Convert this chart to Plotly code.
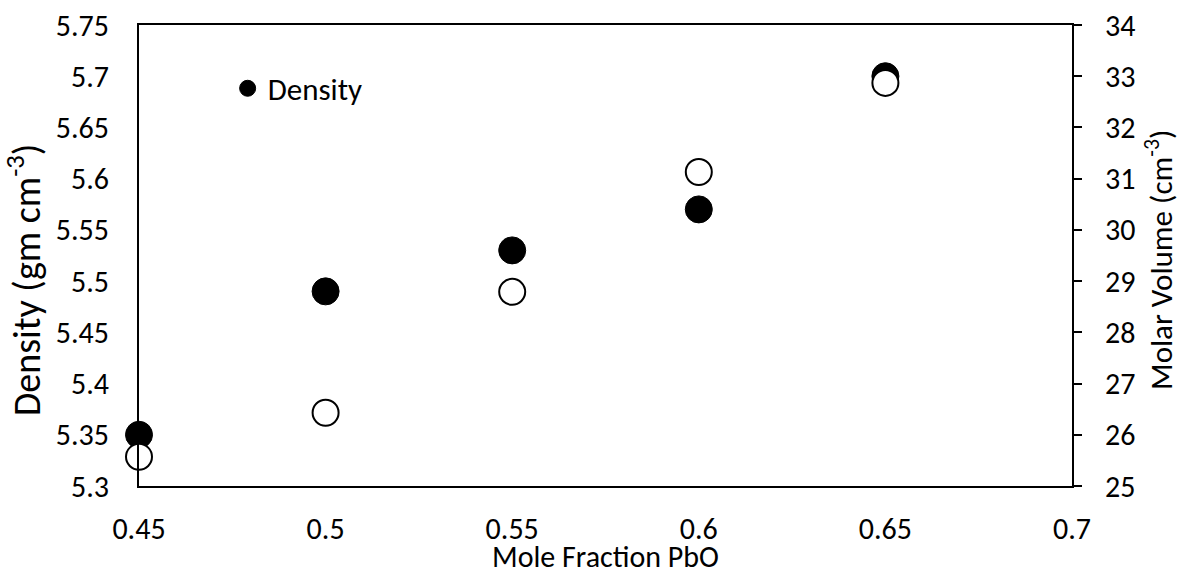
import plotly.graph_objects as go

mole_fraction = [0.45, 0.50, 0.55, 0.60, 0.65]
density = [5.35, 5.49, 5.53, 5.57, 5.70]
molar_volume = [25.57, 26.43, 28.79, 31.13, 32.87]

x_ticks = [0.45, 0.5, 0.55, 0.6, 0.65, 0.7]
x_labels = ["0.45", "0.5", "0.55", "0.6", "0.65", "0.7"]
y_ticks = [5.3, 5.35, 5.4, 5.45, 5.5, 5.55, 5.6, 5.65, 5.7, 5.75]
y_labels = ["5.3", "5.35", "5.4", "5.45", "5.5", "5.55", "5.6", "5.65", "5.7", "5.75"]
y2_ticks = list(range(25, 35))

FONT = "Carlito, Lato, sans-serif"
FS = 30

fig = go.Figure()
fig.add_trace(go.Scatter(
    x=mole_fraction, y=molar_volume, mode="markers", name="Molar Volume",
    yaxis="y2", showlegend=False, cliponaxis=False,
    marker=dict(size=26, color="white", line=dict(color="black", width=2)),
))
fig.add_trace(go.Scatter(
    x=mole_fraction, y=density, mode="markers", name="Density", cliponaxis=False,
    marker=dict(size=27, color="black", line=dict(color="black", width=1)),
))

fig.update_layout(
    width=1178, height=569,
    margin=dict(l=139, r=106, t=25, b=83, autoexpand=False),
    paper_bgcolor="white", plot_bgcolor="white",
    font=dict(family=FONT, size=FS, color="black"),
    showlegend=True,
    legend=dict(x=0.095, y=0.862, xanchor="left", yanchor="middle",
                bgcolor="rgba(0,0,0,0)", font=dict(size=31, family=FONT),
                itemwidth=30),
    xaxis=dict(range=[0.45, 0.7], tickvals=x_ticks, ticktext=x_labels,
               showgrid=False, zeroline=False, showline=True, linecolor="black",
               linewidth=2, mirror=True, ticks="", ticklabelstandoff=15,
               automargin=False,
               layer="above traces", tickfont=dict(size=FS, family=FONT)),
    yaxis=dict(range=[5.3, 5.75], tickvals=y_ticks, ticktext=y_labels,
               showgrid=False, zeroline=False, showline=True, linecolor="black",
               linewidth=2, ticks="", ticklabelstandoff=22, automargin=False,
               layer="above traces", tickfont=dict(size=FS, family=FONT)),
    yaxis2=dict(range=[25, 34], tickvals=y2_ticks, overlaying="y", side="right",
                showgrid=False, zeroline=False, showline=True, linecolor="black",
                linewidth=2, ticks="outside", ticklen=8, tickwidth=2, tickcolor="black",
                ticklabelstandoff=17, layer="above traces", automargin=False,
                tickfont=dict(size=FS, family=FONT)),
    annotations=[
        dict(text="Mole Fraction PbO", xref="paper", yref="paper",
             x=0.5, y=-0.152, xanchor="center", yanchor="middle",
             showarrow=False, font=dict(size=30, family=FONT)),
        dict(text="Density (gm cm<sup>-3</sup>)", xref="paper", yref="paper",
             x=-0.122, y=0.447, xanchor="center", yanchor="middle", textangle=-90,
             showarrow=False, font=dict(size=38, family=FONT)),
        dict(text="Molar Volume (cm<sup>-3</sup>)", xref="paper", yref="paper",
             x=1.093, y=0.49, xanchor="center", yanchor="middle", textangle=-90,
             showarrow=False, font=dict(size=31, family=FONT)),
    ],
)

fig.write_html("out.html")
